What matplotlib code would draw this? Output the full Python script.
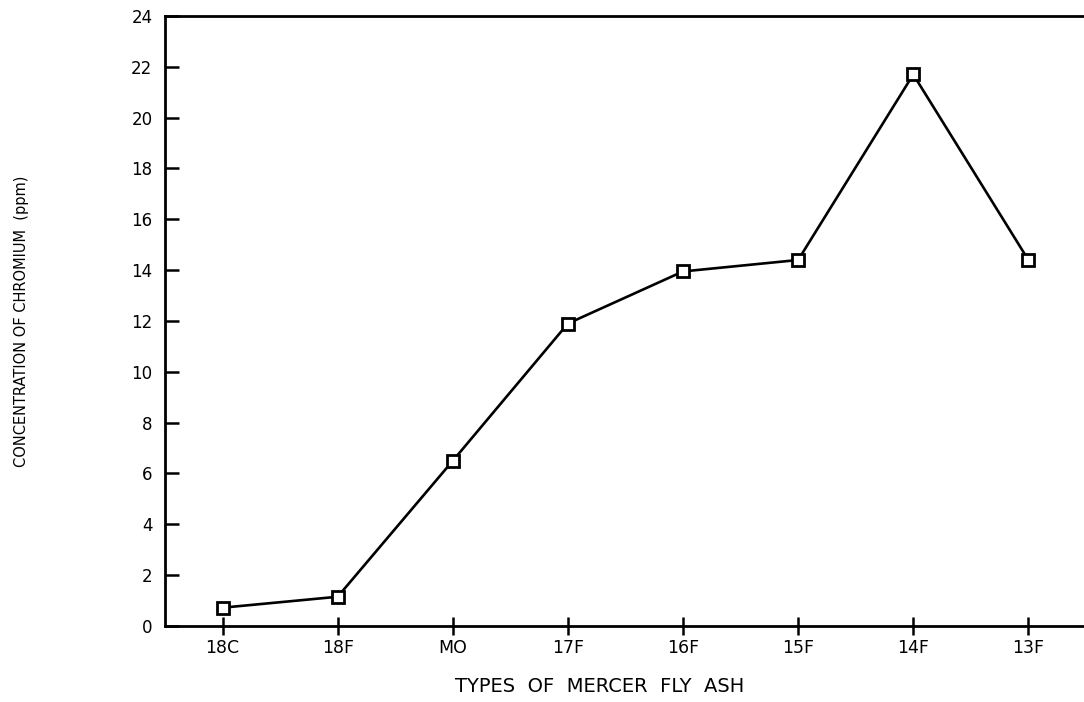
import matplotlib
matplotlib.use('Agg')
from matplotlib import pyplot as plt


# Chromium concentration for each fly ash type
ash_types = ['18C', '18F', 'MO', '17F', '16F', '15F', '14F', '13F']
chromium_ppm = [0.72, 1.15, 6.5, 11.9, 13.95, 14.4, 21.7, 14.4]
y_ticks = [0, 2, 4, 6, 8, 10, 12, 14, 16, 18, 20, 22, 24]


plt.rcParams['font.family'] = 'DejaVu Sans'

fig = plt.figure(figsize=(10.84, 7.02), dpi=100)
ax = fig.add_axes([0.1522, 0.1083, 0.8496, 0.8689])

x = list(range(len(ash_types)))
ax.plot(x, chromium_ppm, color='black', linewidth=1.9,
        marker='s', markersize=8, markerfacecolor='white',
        markeredgecolor='black', markeredgewidth=2.0)

ax.set_xlim(-0.5, 7.5)
ax.set_ylim(0, 24)
ax.set_xticks(x)
ax.set_xticklabels(ash_types)
ax.set_yticks(y_ticks)

for side in ['left', 'bottom', 'top']:
    ax.spines[side].set_linewidth(2.0)
ax.spines['right'].set_visible(False)

ax.tick_params(axis='y', direction='in', length=10, width=1.8, pad=9, labelsize=12)
ax.tick_params(axis='x', direction='inout', length=13, width=1.8, pad=3, labelsize=12.5)

ax.set_xlabel('TYPES  OF  MERCER  FLY  ASH', fontsize=14, va='top')
ax.xaxis.set_label_coords(0.472, -0.084)
ax.set_ylabel('CONCENTRATION OF CHROMIUM  (ppm)', fontsize=10.5)
ax.yaxis.set_label_coords(-0.148, 0.5)

fig.savefig('out.png', dpi=100)
plt.close(fig)
